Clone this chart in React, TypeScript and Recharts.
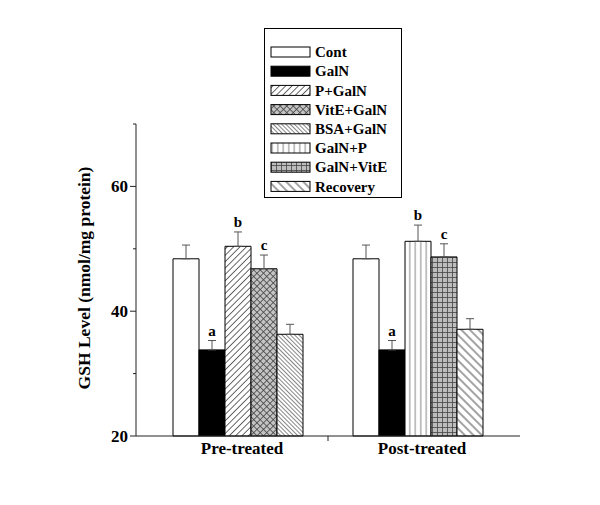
import { BarChart, Bar, XAxis, YAxis, ErrorBar, Cell, LabelList, Legend } from "recharts";

const CATEGORIES = ["Pre-treated", "Post-treated"];
const SERIES = ["Cont", "GalN", "P+GalN", "VitE+GalN", "BSA+GalN", "GalN+P", "GalN+VitE", "Recovery"];

// which legend entry each of the 5 bars in a group belongs to
const PRE_SERIES = [0, 1, 2, 3, 4];
const POST_SERIES = [0, 1, 5, 6, 7];

const PRE_VALUES = [48.4, 33.8, 50.4, 46.8, 36.3];
const PRE_ERRORS = [2.2, 1.5, 2.3, 2.2, 1.6];
const POST_VALUES = [48.4, 33.8, 51.2, 48.7, 37.1];
const POST_ERRORS = [2.2, 1.5, 2.6, 2.1, 1.7];
const LETTERS = ["", "a", "b", "c", ""];

const Y_TICKS = [20, 30, 40, 50, 60, 70];
const Y_LABEL = "GSH Level (nmol/mg protein)";

const FONT = "'Liberation Serif', 'Times New Roman', serif";
const SLOTS = [0, 1, 2, 3, 4];

const groups = [
  { series: PRE_SERIES, values: PRE_VALUES, errors: PRE_ERRORS },
  { series: POST_SERIES, values: POST_VALUES, errors: POST_ERRORS },
];

const data = CATEGORIES.map((name, c) => {
  const row: Record<string, any> = { name };
  groups[c].values.forEach((v, i) => {
    row[`v${i}`] = v;
    row[`e${i}`] = [0, groups[c].errors[i]];
    row[`l${i}`] = LETTERS[i];
  });
  return row;
});

function Patterns() {
  return (
    <svg width={0} height={0} style={{ position: "absolute" }}>
      <defs>
        <pattern id="pat0" width={4} height={4} patternUnits="userSpaceOnUse">
          <rect width={4} height={4} fill="#fff" />
        </pattern>
        <pattern id="pat1" width={4} height={4} patternUnits="userSpaceOnUse">
          <rect width={4} height={4} fill="#000" />
        </pattern>
        <pattern id="pat2" width={4.5} height={4.5} patternUnits="userSpaceOnUse" patternTransform="rotate(45)">
          <rect width={4.5} height={4.5} fill="#fff" />
          <line x1={2.25} y1={0} x2={2.25} y2={4.5} stroke="#444" strokeWidth={0.8} />
        </pattern>
        <pattern id="pat3" width={4.6} height={4.6} patternUnits="userSpaceOnUse" patternTransform="rotate(45)">
          <rect width={4.6} height={4.6} fill="#c4c4c4" />
          <line x1={2.3} y1={0} x2={2.3} y2={4.6} stroke="#444" strokeWidth={0.8} />
          <line x1={0} y1={2.3} x2={4.6} y2={2.3} stroke="#444" strokeWidth={0.8} />
        </pattern>
        <pattern id="pat4" width={3} height={3} patternUnits="userSpaceOnUse" patternTransform="rotate(-45)">
          <rect width={3} height={3} fill="#fff" />
          <line x1={1.5} y1={0} x2={1.5} y2={3} stroke="#555" strokeWidth={0.7} />
        </pattern>
        <pattern id="pat5" width={5.5} height={5.5} patternUnits="userSpaceOnUse">
          <rect width={5.5} height={5.5} fill="#fff" />
          <line x1={2.75} y1={0} x2={2.75} y2={5.5} stroke="#666" strokeWidth={0.8} />
        </pattern>
        <pattern id="pat6" width={5} height={5} patternUnits="userSpaceOnUse">
          <rect width={5} height={5} fill="#bdbdbd" />
          <line x1={2.5} y1={0} x2={2.5} y2={5} stroke="#444" strokeWidth={0.8} />
          <line x1={0} y1={2.5} x2={5} y2={2.5} stroke="#444" strokeWidth={0.8} />
        </pattern>
        <pattern id="pat7" width={6} height={6} patternUnits="userSpaceOnUse" patternTransform="rotate(-45)">
          <rect width={6} height={6} fill="#fff" />
          <line x1={3} y1={0} x2={3} y2={6} stroke="#333" strokeWidth={0.9} />
        </pattern>
      </defs>
    </svg>
  );
}

const renderYTick = (props: any) => {
  const { x, y, payload } = props;
  const major = payload.value % 20 === 0;
  return (
    <g>
      <line x1={x - (major ? 6 : 3)} x2={x} y1={y} y2={y} stroke="#222" />
      {major && (
        <text x={x - 8} y={y} dy="0.35em" textAnchor="end" fontFamily={FONT} fontWeight="bold" fontSize={17} fill="#000">
          {payload.value}
        </text>
      )}
    </g>
  );
};

const renderXTick = (props: any) => {
  const { x, y, payload, index } = props;
  const off = payload.offset ?? 90;
  return (
    <g>
      <text x={x + 4} y={y + 18} textAnchor="middle" fontFamily={FONT} fontWeight="bold" fontSize={17} fill="#000">
        {payload.value}
      </text>
      {index === 0 && <line x1={x + off} x2={x + off} y1={y} y2={y + 5} stroke="#222" />}
    </g>
  );
};

const letterRenderer = (slot: number) => (props: any) => {
  const { x, y, width, height, index } = props;
  const g = groups[index];
  if (!g || !LETTERS[slot]) return null;
  const v = g.values[slot];
  const errPx = (g.errors[slot] / (v - 20)) * Number(height);
  return (
    <text
      x={Number(x) + Number(width) / 2}
      y={Number(y) - errPx - 5}
      textAnchor="middle"
      fontFamily={FONT}
      fontWeight="bold"
      fontSize={15}
      fill="#000"
    >
      {LETTERS[slot]}
    </text>
  );
};

const renderLegend = () => (
  <svg width={138} height={170} style={{ display: "block" }}>
    <rect x={0.5} y={0.5} width={137} height={169} fill="#fff" stroke="#000" />
    {SERIES.map((name, i) => {
      const cy = 24 + i * 19.2;
      return (
        <g key={name}>
          <rect x={7} y={cy - 5} width={39} height={10} fill={`url(#pat${i})`} stroke="#000" />
          <text x={51} y={cy} dy="0.35em" fontFamily={FONT} fontWeight="bold" fontSize={15} fill="#000">
            {name}
          </text>
        </g>
      );
    })}
  </svg>
);

export default function App() {
  return (
    <div style={{ margin: -8, width: 600, height: 505, background: "#fff", position: "relative" }}>
      <Patterns />
      <BarChart
        width={600}
        height={505}
        data={data}
        margin={{ top: 124, right: 80, bottom: 39, left: 76 }}
        barCategoryGap={25}
        barGap={0}
      >
        <XAxis
          dataKey="name"
          height={30}
          padding={{ left: 12, right: 12 }}
          tickLine={false}
          tickSize={0}
          tickMargin={0}
          tick={renderXTick}
          axisLine={{ stroke: "#222" }}
        />
        <YAxis
          width={60}
          domain={[20, 70]}
          ticks={Y_TICKS}
          interval={0}
          tickLine={false}
          tickSize={0}
          tickMargin={0}
          tick={renderYTick}
          axisLine={{ stroke: "#222" }}
          label={{
            value: Y_LABEL,
            angle: -90,
            position: "center",
            dx: -22,
            dy: -2,
            fontFamily: FONT,
            fontWeight: "bold",
            fontSize: 17.5,
            fill: "#000",
          }}
        />
        <Legend
          layout="horizontal"
          verticalAlign="middle"
          align="center"
          content={renderLegend}
          wrapperStyle={{ position: "absolute", top: 28, left: 264, width: 138, height: 170 }}
        />
        {SLOTS.map((i) => (
          <Bar key={i} dataKey={`v${i}`} stroke="#000" strokeWidth={1} isAnimationActive={false}>
            {data.map((_, c) => (
              <Cell key={c} fill={`url(#pat${groups[c].series[i]})`} />
            ))}
            <ErrorBar dataKey={`e${i}`} direction="y" width={4} stroke="#555" strokeWidth={1} />
            <LabelList dataKey={`l${i}`} content={letterRenderer(i)} />
          </Bar>
        ))}
      </BarChart>
    </div>
  );
}
